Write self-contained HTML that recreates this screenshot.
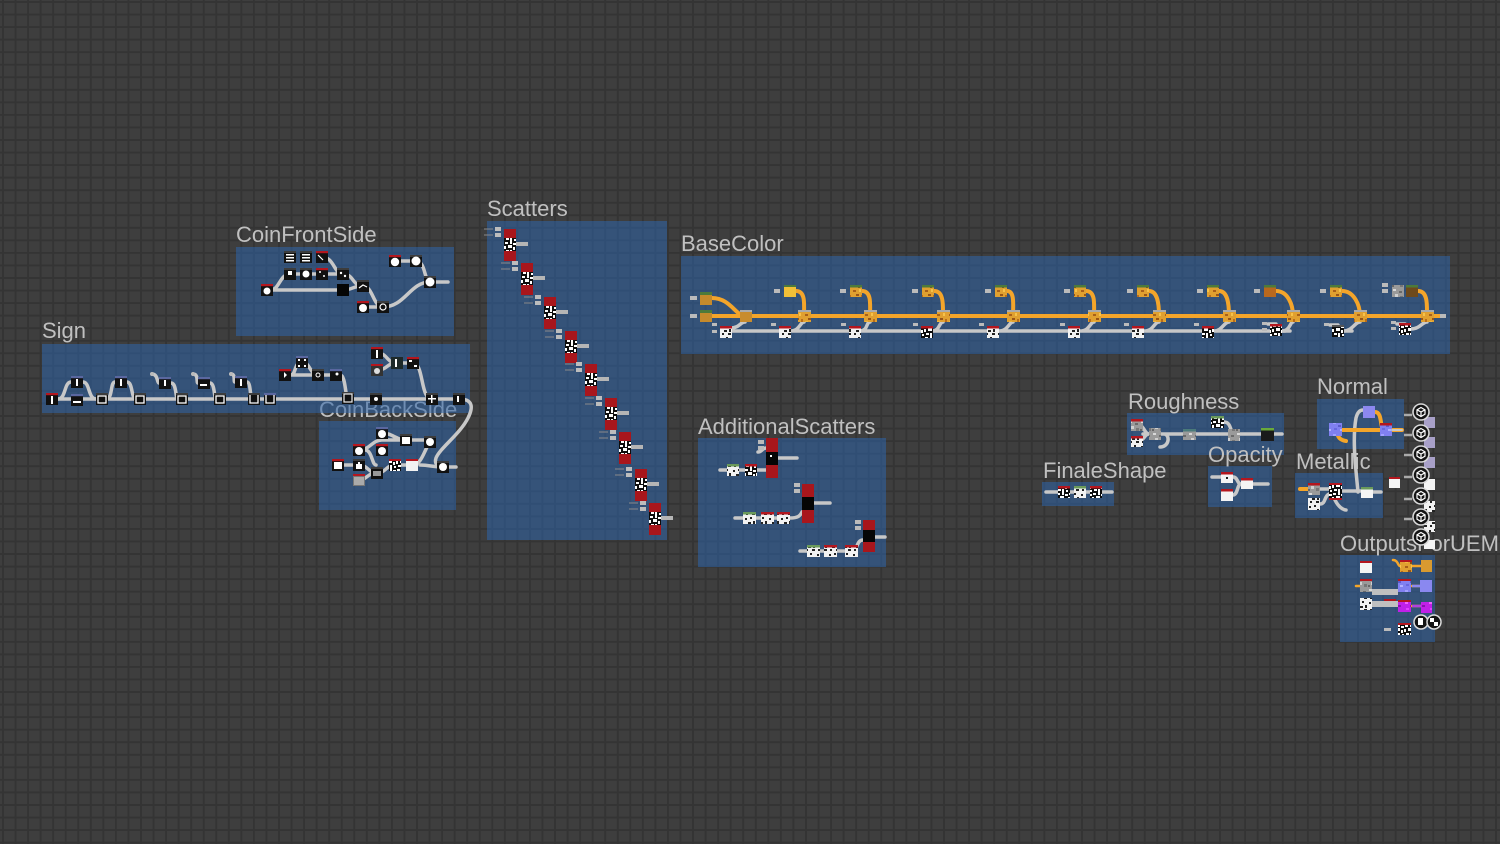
<!DOCTYPE html>
<html><head><meta charset="utf-8"><style>
html,body{margin:0;padding:0}
body{width:1500px;height:844px;overflow:hidden;background-color:#3e3e3e;
background-image:linear-gradient(to bottom,#343434 0,#343434 2px,transparent 2px),linear-gradient(to right,#343434 0,#343434 2px,transparent 2px);
background-size:12.55px 12.55px;background-position:2px 1px;}
svg{position:absolute;left:0;top:0}
.t{font-family:"Liberation Sans","DejaVu Sans",sans-serif;font-size:22px;fill:#c0c0c0}
.g{fill:none;stroke:#c8c8c8;stroke-width:3.5;stroke-linecap:round}
.o{fill:none;stroke:#f4a52a;stroke-width:4;stroke-linecap:round}
.fr{fill:rgba(45,100,170,0.55)}
</style></head><body>
<svg width="1500" height="844" viewBox="0 0 1500 844" xmlns="http://www.w3.org/2000/svg">
<defs>
<pattern id="nz" width="12" height="12" patternUnits="userSpaceOnUse">
<rect width="12" height="12" fill="#0c0c0c"/>
<rect x="1" y="1" width="3" height="2" fill="#fff"/><rect x="6" y="0" width="2" height="3" fill="#fff"/><rect x="9" y="2" width="3" height="2" fill="#fff"/><rect x="0" y="5" width="2" height="3" fill="#fff"/><rect x="4" y="4" width="4" height="3" fill="#fff"/><rect x="9" y="6" width="2" height="3" fill="#fff"/><rect x="2" y="9" width="3" height="2" fill="#fff"/><rect x="6" y="9" width="2" height="3" fill="#fff"/><rect x="10" y="10" width="2" height="2" fill="#fff"/>
</pattern>
<pattern id="nw" width="12" height="12" patternUnits="userSpaceOnUse">
<rect width="12" height="12" fill="#f2f2f2"/>
<rect x="1" y="2" width="2" height="2" fill="#222"/><rect x="6" y="1" width="2" height="2" fill="#222"/><rect x="4" y="6" width="3" height="2" fill="#222"/><rect x="9" y="5" width="2" height="3" fill="#222"/><rect x="2" y="9" width="2" height="2" fill="#222"/><rect x="8" y="9" width="3" height="2" fill="#222"/>
</pattern>
<pattern id="ng" width="12" height="12" patternUnits="userSpaceOnUse">
<rect width="12" height="12" fill="#9a9a9a"/>
<rect x="1" y="1" width="3" height="2" fill="#d8d8d8"/><rect x="7" y="3" width="3" height="2" fill="#6a6a6a"/><rect x="3" y="6" width="3" height="3" fill="#cfcfcf"/><rect x="8" y="8" width="3" height="3" fill="#777"/><rect x="0" y="9" width="2" height="2" fill="#666"/>
</pattern>
<pattern id="ru" width="12" height="12" patternUnits="userSpaceOnUse">
<rect width="12" height="12" fill="#e0a030"/>
<rect x="1" y="2" width="3" height="2" fill="#a8601a"/><rect x="7" y="1" width="2" height="3" fill="#f6c24a"/><rect x="4" y="6" width="3" height="2" fill="#9a5516"/><rect x="9" y="7" width="2" height="3" fill="#b86c1c"/><rect x="1" y="9" width="3" height="2" fill="#f0b840"/><rect x="6" y="10" width="2" height="2" fill="#8c4c14"/>
</pattern>
<pattern id="nm" width="12" height="12" patternUnits="userSpaceOnUse">
<rect width="12" height="12" fill="#8080f0"/>
<rect x="1" y="2" width="3" height="2" fill="#a0a0ff"/><rect x="6" y="5" width="3" height="2" fill="#5c5ccc"/><rect x="2" y="8" width="3" height="2" fill="#6868e0"/><rect x="8" y="9" width="3" height="2" fill="#b0b0ff"/>
</pattern>
<pattern id="mg" width="12" height="12" patternUnits="userSpaceOnUse">
<rect width="12" height="12" fill="#c020e8"/>
<rect x="1" y="2" width="3" height="2" fill="#f060ff"/><rect x="6" y="5" width="3" height="2" fill="#8a10b0"/><rect x="2" y="8" width="3" height="2" fill="#e040ff"/>
</pattern>
<g id="kR"><rect width="12" height="12" fill="#111"/><rect width="12" height="2.2" fill="#b4161e"/></g>
<g id="kB"><rect width="12" height="12" fill="#111"/><rect width="12" height="2.2" fill="#5a67a0"/></g>
<g id="kK"><rect width="12" height="12" fill="#111"/><rect width="12" height="2" fill="#3c3c3c"/></g>
<g id="oc"><circle cx="0" cy="0" r="8" fill="#141414" stroke="#d8d8d8" stroke-width="1.6"/><path d="M0,-4.5 L4,-2.2 L4,2.2 L0,4.5 L-4,2.2 L-4,-2.2 Z M-4,-2.2 L0,0 L4,-2.2 M0,0 L0,4.5" fill="none" stroke="#fff" stroke-width="1.2"/></g>
<g id="sc"><rect width="12" height="32" fill="#a8161c"/><rect y="9" width="12" height="13" fill="url(#nz)"/><rect x="-9" y="-2" width="6" height="4" fill="#bdbdbd"/><rect x="-9" y="4" width="6" height="4" fill="#bdbdbd"/><path d="M-20,0 h9 M-20,6 h9" stroke="#8a8a8a" stroke-width="1"/><rect x="12" y="13" width="12" height="4" fill="#b5b5b5"/></g>
</defs>

<text class="t" x="319" y="417">CoinBackSide</text>

<rect class="fr" x="236" y="247" width="218" height="89"/>
<rect class="fr" x="42" y="344" width="428" height="69"/>
<rect class="fr" x="319" y="421" width="137" height="89"/>
<rect class="fr" x="487" y="221" width="180" height="319"/>
<rect class="fr" x="681" y="256" width="769" height="98"/>
<rect class="fr" x="698" y="438" width="188" height="129"/>
<rect class="fr" x="1127" y="413" width="157" height="42"/>
<rect class="fr" x="1042" y="482" width="72" height="24"/>
<rect class="fr" x="1208" y="466" width="64" height="41"/>
<rect class="fr" x="1317" y="399" width="87" height="50"/>
<rect class="fr" x="1295" y="473" width="88" height="45"/>
<rect class="fr" x="1340" y="555" width="95" height="87"/>

<text class="t" x="42" y="338">Sign</text>
<text class="t" x="236" y="242">CoinFrontSide</text>
<text class="t" x="487" y="216">Scatters</text>
<text class="t" x="681" y="251">BaseColor</text>
<text class="t" x="698" y="434">AdditionalScatters</text>
<text class="t" x="1128" y="409">Roughness</text>
<text class="t" x="1208" y="462">Opacity</text>
<text class="t" x="1043" y="478">FinaleShape</text>
<text class="t" x="1317" y="394">Normal</text>
<text class="t" x="1296" y="469">Metallic</text>
<text class="t" x="1340" y="551">OutputsForUEM</text>

<path class="g" d="M52,399 H463"/>
<path class="g" d="M58,399 C66,399 64,382 71,382 M83,382 C90,382 88,399 96,399"/>
<path class="g" d="M106,399 C113,399 110,382 115,382 M127,382 C133,382 131,399 136,399"/>
<path class="g" d="M152,374 C158,374 157,383 159,383 M171,383 C177,383 175,399 178,399"/>
<path class="g" d="M193,374 C199,374 196,383 198,383 M210,383 C215,383 214,399 216,399"/>
<path class="g" d="M231,374 C236,374 233,382 235,382 M247,382 C251,382 250,399 252,399"/>
<path class="g" d="M285,375 H336 M291,375 C296,375 294,362 302,362 C310,362 310,375 318,375 M340,375 C346,375 345,398 348,398"/>
<path class="g" d="M377,353 C388,353 386,363 397,363 M377,370 C388,370 386,363 397,363 H413 C424,363 420,399 432,399"/>
<path class="g" d="M459,399 C472,399 474,406 468,418 C460,434 440,448 436,458 C434,464 438,467 443,467"/>
<use href="#kR" x="46" y="393"/><rect x="51" y="396" width="2" height="8" fill="#fff"/>
<use href="#kB" x="71" y="394"/><rect x="73" y="401" width="8" height="2" fill="#fff"/>
<use href="#kK" x="96" y="393"/><rect x="98" y="396" width="8" height="7" fill="none" stroke="#fff" stroke-width="1.3"/>
<use href="#kK" x="134" y="393"/><rect x="136" y="396" width="8" height="7" fill="none" stroke="#fff" stroke-width="1.3"/>
<use href="#kK" x="176" y="393"/><rect x="178" y="396" width="8" height="7" fill="none" stroke="#fff" stroke-width="1.3"/>
<use href="#kK" x="214" y="393"/><rect x="216" y="396" width="8" height="7" fill="none" stroke="#fff" stroke-width="1.3"/>
<use href="#kK" x="248" y="393"/><path d="M250,395 V403 H258 V395" fill="none" stroke="#fff" stroke-width="1.3"/>
<use href="#kB" x="264" y="393"/><path d="M266,395 V403 H274 V395" fill="none" stroke="#fff" stroke-width="1.3"/>
<use href="#kB" x="71" y="376"/><rect x="76" y="379" width="2" height="7" fill="#fff"/>
<use href="#kB" x="115" y="376"/><rect x="120" y="379" width="2" height="7" fill="#fff"/>
<use href="#kB" x="159" y="377"/><rect x="164" y="380" width="2" height="6" fill="#fff"/>
<use href="#kB" x="198" y="377"/><rect x="200" y="384" width="7" height="2" fill="#fff"/>
<use href="#kB" x="235" y="376"/><rect x="240" y="379" width="2" height="7" fill="#fff"/>
<circle cx="152" cy="374" r="2" fill="#bbb"/><circle cx="193" cy="374" r="2" fill="#bbb"/><circle cx="231" cy="374" r="2" fill="#bbb"/>
<use href="#kR" x="279" y="369"/><path d="M284,372 l3,3 l-3,3z" fill="#fff"/>
<use href="#kB" x="296" y="356"/><rect x="298" y="359" width="2" height="2" fill="#fff"/><rect x="304" y="359" width="2" height="2" fill="#fff"/><rect x="298" y="365" width="2" height="2" fill="#fff"/><rect x="304" y="365" width="2" height="2" fill="#fff"/>
<use href="#kK" x="312" y="369"/><circle cx="318" cy="375" r="2" fill="none" stroke="#fff"/>
<use href="#kB" x="330" y="369"/><circle cx="337" cy="374" r="1.5" fill="#fff"/>
<use href="#kK" x="342" y="392"/><rect x="344" y="394" width="8" height="8" fill="none" stroke="#eee" stroke-width="1.2"/>
<use href="#kK" x="370" y="393"/><circle cx="376" cy="399" r="2" fill="#fff"/>
<use href="#kR" x="371" y="347"/><rect x="376" y="350" width="2" height="8" fill="#fff"/>
<rect x="371" y="364" width="12" height="12" fill="#333"/><rect x="371" y="364" width="12" height="2" fill="#b4161e"/><circle cx="377" cy="371" r="3" fill="#ddd"/>
<rect x="391" y="357" width="12" height="12" fill="#1e2a2a"/><rect x="395" y="359" width="2" height="8" fill="#fff"/>
<use href="#kR" x="407" y="357"/><rect x="409" y="360" width="3" height="2" fill="#fff"/><rect x="414" y="365" width="3" height="2" fill="#fff"/>
<use href="#kK" x="426" y="393"/><rect x="431" y="395" width="1.5" height="8" fill="#fff"/><rect x="428" y="398" width="8" height="1.5" fill="#fff"/>
<use href="#kK" x="453" y="393"/><rect x="457" y="396" width="2" height="6" fill="#fff"/>

<path class="g" d="M267,290 H343 M271,290 C279,290 280,274 290,274 H343 M322,257 C334,257 334,274 343,274 C354,274 352,286 363,286 M343,290 C353,290 352,286 363,286 C373,286 373,307 383,307 M363,307 H383 C405,307 410,282 430,282 M395,261 H416 C426,261 424,282 430,282 M436,282 H448"/>
<use href="#kK" x="284" y="251"/><rect x="286" y="254" width="8" height="1.5" fill="#fff"/><rect x="286" y="257" width="8" height="1.5" fill="#fff"/><rect x="286" y="260" width="8" height="1.5" fill="#fff"/>
<use href="#kK" x="300" y="251"/><rect x="302" y="254" width="8" height="1.5" fill="#fff"/><rect x="302" y="257" width="8" height="1.5" fill="#fff"/><rect x="302" y="260" width="8" height="1.5" fill="#fff"/>
<use href="#kR" x="316" y="251"/><path d="M318,255 l5,5" stroke="#fff" stroke-width="1.2"/>
<use href="#kK" x="284" y="268"/><rect x="288" y="271" width="4" height="4" fill="#fff"/>
<use href="#kK" x="300" y="268"/><circle cx="306" cy="274" r="3.5" fill="#fff"/>
<use href="#kR" x="316" y="268"/><circle cx="320" cy="272" r="1" fill="#fff"/><circle cx="324" cy="276" r="1" fill="#fff"/>
<use href="#kK" x="337" y="268"/><circle cx="341" cy="273" r="1.2" fill="#fff"/><circle cx="345" cy="276" r="1.2" fill="#fff"/>
<use href="#kR" x="261" y="284"/><circle cx="267" cy="291" r="3.5" fill="#fff"/>
<rect x="337" y="284" width="12" height="12" fill="#050505"/>
<use href="#kK" x="357" y="280"/><path d="M359,288 l4,-3 l4,2" stroke="#fff" fill="none" stroke-width="1.2"/>
<use href="#kR" x="357" y="301"/><circle cx="363" cy="308" r="4" fill="#fff"/>
<use href="#kK" x="377" y="301"/><circle cx="383" cy="307" r="3" fill="none" stroke="#fff" stroke-width="1.2"/>
<use href="#kR" x="389" y="255"/><circle cx="395" cy="262" r="4.2" fill="#fff"/>
<use href="#kK" x="410" y="255"/><circle cx="416" cy="261" r="4.5" fill="#fff"/>
<use href="#kK" x="424" y="276"/><circle cx="430" cy="282" r="4.5" fill="#fff"/>

<path class="g" d="M344,465 H359 C368,465 368,473 377,473 C386,473 386,465 395,465 H412 C422,465 424,450 430,442 M359,450 C370,450 372,440 382,440 H406 M382,433 C392,433 396,440 406,440 H430 M359,480 C367,480 367,473 377,473 M365,450 C372,450 372,465 376,465 M420,465 C430,465 432,467 443,467 M449,467 H456"/>
<use href="#kB" x="376" y="427"/><circle cx="382" cy="434" r="4" fill="#fff"/>
<use href="#kR" x="353" y="444"/><circle cx="359" cy="451" r="4" fill="#fff"/>
<use href="#kR" x="376" y="444"/><circle cx="382" cy="451" r="4" fill="#fff"/>
<use href="#kK" x="400" y="434"/><rect x="402" y="437" width="8" height="7" fill="#fff"/>
<use href="#kK" x="424" y="436"/><circle cx="430" cy="442" r="4" fill="#fff"/>
<use href="#kR" x="332" y="459"/><rect x="334" y="462" width="8" height="7" fill="#fff"/>
<use href="#kK" x="353" y="459"/><path d="M356,469 V464 h2 v-2 h2 v2 h2 v5z" fill="#fff"/>
<rect x="353" y="474" width="12" height="12" fill="#777"/><rect x="353" y="474" width="12" height="2" fill="#b4161e"/><rect x="354" y="477" width="10" height="8" fill="#aaa"/>
<use href="#kK" x="371" y="467"/><rect x="373" y="471" width="8" height="5" fill="#999"/>
<rect x="389" y="459" width="12" height="12" fill="url(#nz)"/><rect x="389" y="459" width="12" height="2" fill="#b4161e"/>
<rect x="406" y="459" width="12" height="12" fill="#f2f2f2"/><rect x="406" y="459" width="12" height="2" fill="#b4161e"/>
<use href="#kK" x="437" y="461"/><circle cx="443" cy="467" r="4" fill="#fff"/>

<use href="#sc" x="504" y="229"/>
<use href="#sc" x="521" y="263"/>
<use href="#sc" x="544" y="297"/>
<use href="#sc" x="565" y="331"/>
<use href="#sc" x="585" y="364"/>
<use href="#sc" x="605" y="398"/>
<use href="#sc" x="619" y="432"/>
<use href="#sc" x="635" y="469"/>
<use href="#sc" x="649" y="503"/>

<path class="g" d="M732,331 H1285 M730,328 C740,328 740,322 745,322 M790,331 C800,331 800,322 804,322 M860,331 C868,331 866,322 870,322 M932,331 C940,331 939,322 943,322 M999,331 C1008,331 1009,322 1013,322 M1080,331 C1090,331 1090,322 1094,322 M1144,331 C1154,331 1154,322 1159,322 M1214,331 C1222,331 1224,322 1229,322 M1282,331 C1290,331 1290,322 1293,322 M1344,331 C1352,331 1355,322 1360,322 M1411,329 C1420,329 1422,322 1427,322"/>
<path class="g" d="M1268,324 H1276 M1330,325 H1338 M1397,324 H1405 M1344,331 H1352 M1282,331 H1290"/>
<path class="o" d="M712,316 H1440 M712,298 C730,298 736,316 745,316 M796,291 C806,291 804,305 804,316 M862,291 C872,291 870,305 870,316 M934,291 C944,291 943,305 943,316 M1007,291 C1015,291 1013,305 1013,316 M1086,291 C1096,291 1094,305 1094,316 M1149,291 C1158,291 1159,305 1159,316 M1219,291 C1228,291 1229,305 1229,316 M1276,291 C1288,291 1293,305 1293,316 M1342,291 C1354,291 1360,305 1360,316 M1418,291 C1428,291 1427,305 1427,316"/>
<rect x="690" y="296" width="7" height="4" fill="#bbb"/><rect x="690" y="314" width="7" height="4" fill="#bbb"/>
<rect x="700" y="292" width="12" height="13" fill="#c58a2c"/><rect x="700" y="292" width="12" height="3" fill="#4d7a3a"/>
<rect x="700" y="310" width="12" height="12" fill="#c58a2c"/><rect x="700" y="310" width="12" height="3" fill="#4d7a3a"/>
<rect x="740" y="310" width="12" height="12" fill="#c88c2e"/><rect x="740" y="310" width="12" height="2" fill="#aaa"/>
<rect x="784" y="285" width="12" height="12" fill="#f2c038"/><rect x="784" y="285" width="12" height="2" fill="#4d7a3a"/>
<rect x="774" y="289" width="6" height="4" fill="#bbb"/>
<rect x="850" y="285" width="12" height="12" fill="url(#ru)"/><rect x="850" y="285" width="12" height="2.5" fill="#4d7a3a"/><rect x="840" y="289" width="6" height="4" fill="#bbb"/>
<rect x="922" y="285" width="12" height="12" fill="url(#ru)"/><rect x="922" y="285" width="12" height="2.5" fill="#4d7a3a"/><rect x="912" y="289" width="6" height="4" fill="#bbb"/>
<rect x="995" y="285" width="12" height="12" fill="url(#ru)"/><rect x="995" y="285" width="12" height="2.5" fill="#4d7a3a"/><rect x="985" y="289" width="6" height="4" fill="#bbb"/>
<rect x="1074" y="285" width="12" height="12" fill="url(#ru)"/><rect x="1074" y="285" width="12" height="2.5" fill="#4d7a3a"/><rect x="1064" y="289" width="6" height="4" fill="#bbb"/>
<rect x="1137" y="285" width="12" height="12" fill="url(#ru)"/><rect x="1137" y="285" width="12" height="2.5" fill="#4d7a3a"/><rect x="1127" y="289" width="6" height="4" fill="#bbb"/>
<rect x="1207" y="285" width="12" height="12" fill="url(#ru)"/><rect x="1207" y="285" width="12" height="2.5" fill="#4d7a3a"/><rect x="1197" y="289" width="6" height="4" fill="#bbb"/>
<rect x="1264" y="285" width="12" height="12" fill="#b8681e"/><rect x="1264" y="285" width="12" height="2.5" fill="#4d7a3a"/><rect x="1254" y="289" width="6" height="4" fill="#bbb"/>
<rect x="1330" y="285" width="12" height="12" fill="url(#ru)"/><rect x="1330" y="285" width="12" height="2.5" fill="#4d7a3a"/><rect x="1320" y="289" width="6" height="4" fill="#bbb"/>
<rect x="1392" y="285" width="12" height="12" fill="url(#ng)"/><rect x="1406" y="285" width="12" height="12" fill="#6e4a1c"/><rect x="1406" y="285" width="12" height="2.5" fill="#4d7a3a"/><rect x="1382" y="283" width="6" height="4" fill="#bbb"/><rect x="1382" y="289" width="6" height="4" fill="#bbb"/>
<rect x="798" y="310" width="13" height="12" fill="url(#ru)"/><rect x="798" y="310" width="13" height="2" fill="#aaa"/>
<rect x="864" y="310" width="13" height="12" fill="url(#ru)"/><rect x="864" y="310" width="13" height="2" fill="#aaa"/>
<rect x="937" y="310" width="13" height="12" fill="url(#ru)"/><rect x="937" y="310" width="13" height="2" fill="#aaa"/>
<rect x="1007" y="310" width="13" height="12" fill="url(#ru)"/><rect x="1007" y="310" width="13" height="2" fill="#aaa"/>
<rect x="1088" y="310" width="13" height="12" fill="url(#ru)"/><rect x="1088" y="310" width="13" height="2" fill="#aaa"/>
<rect x="1153" y="310" width="13" height="12" fill="url(#ru)"/><rect x="1153" y="310" width="13" height="2" fill="#aaa"/>
<rect x="1223" y="310" width="13" height="12" fill="url(#ru)"/><rect x="1223" y="310" width="13" height="2" fill="#aaa"/>
<rect x="1287" y="310" width="13" height="12" fill="url(#ru)"/><rect x="1287" y="310" width="13" height="2" fill="#aaa"/>
<rect x="1354" y="310" width="13" height="12" fill="url(#ru)"/><rect x="1354" y="310" width="13" height="2" fill="#aaa"/>
<rect x="1421" y="310" width="13" height="12" fill="url(#ru)"/><rect x="1421" y="310" width="13" height="2" fill="#aaa"/>
<rect x="1440" y="314" width="6" height="4" fill="#bbb"/>
<rect x="720" y="326" width="12" height="12" fill="url(#nw)"/><rect x="720" y="326" width="12" height="2.5" fill="#b4161e"/>
<rect x="779" y="326" width="12" height="12" fill="url(#nw)"/><rect x="779" y="326" width="12" height="2.5" fill="#b4161e"/>
<rect x="849" y="326" width="12" height="12" fill="url(#nw)"/><rect x="849" y="326" width="12" height="2.5" fill="#b4161e"/>
<rect x="921" y="326" width="12" height="12" fill="url(#nz)"/><rect x="921" y="326" width="12" height="2.5" fill="#b4161e"/>
<rect x="987" y="326" width="12" height="12" fill="url(#nw)"/><rect x="987" y="326" width="12" height="2.5" fill="#b4161e"/>
<rect x="1068" y="326" width="12" height="12" fill="url(#nw)"/><rect x="1068" y="326" width="12" height="2.5" fill="#b4161e"/>
<rect x="1132" y="326" width="12" height="12" fill="url(#nw)"/><rect x="1132" y="326" width="12" height="2.5" fill="#b4161e"/>
<rect x="1202" y="326" width="12" height="12" fill="url(#nz)"/><rect x="1202" y="326" width="12" height="2.5" fill="#b4161e"/>
<rect x="1270" y="324" width="12" height="12" fill="url(#nz)"/><rect x="1270" y="324" width="12" height="2.5" fill="#b4161e"/>
<rect x="1332" y="325" width="12" height="12" fill="url(#nz)"/><rect x="1332" y="325" width="12" height="2" fill="#555"/>
<rect x="1399" y="323" width="12" height="12" fill="url(#nz)"/><rect x="1399" y="323" width="12" height="2.5" fill="#b4161e"/>
<rect x="712" y="323" width="5" height="3" fill="#bbb"/><rect x="712" y="330" width="5" height="3" fill="#bbb"/>
<rect x="771" y="323" width="5" height="3" fill="#bbb"/><rect x="841" y="323" width="5" height="3" fill="#bbb"/><rect x="913" y="323" width="5" height="3" fill="#bbb"/><rect x="979" y="323" width="5" height="3" fill="#bbb"/><rect x="1060" y="323" width="5" height="3" fill="#bbb"/><rect x="1124" y="323" width="5" height="3" fill="#bbb"/><rect x="1194" y="323" width="5" height="3" fill="#bbb"/><rect x="1262" y="322" width="5" height="3" fill="#bbb"/><rect x="1262" y="328" width="5" height="3" fill="#bbb"/><rect x="1324" y="323" width="5" height="3" fill="#bbb"/><rect x="1391" y="321" width="5" height="3" fill="#bbb"/><rect x="1391" y="327" width="5" height="3" fill="#bbb"/>

<path class="g" d="M778,458 H797 M814,503 H830 M875,537 H885 M720,470 H766 M735,518 H790 C798,518 800,516 802,512 M800,551 H852 C858,551 856,540 863,540 M758,452 C762,452 762,448 766,448"/>
<rect x="766" y="438" width="12" height="40" fill="#a8161c"/><rect x="766" y="452" width="12" height="13" fill="#050505"/><rect x="770" y="455" width="2" height="2" fill="#fff"/>
<rect x="802" y="484" width="12" height="39" fill="#a8161c"/><rect x="802" y="497" width="12" height="13" fill="#050505"/>
<rect x="863" y="520" width="12" height="32" fill="#a8161c"/><rect x="863" y="530" width="12" height="12" fill="#050505"/>
<rect x="758" y="440" width="6" height="4" fill="#bbb"/><rect x="758" y="446" width="6" height="4" fill="#bbb"/>
<rect x="794" y="483" width="6" height="4" fill="#bbb"/><rect x="794" y="489" width="6" height="4" fill="#bbb"/>
<rect x="855" y="520" width="6" height="4" fill="#bbb"/><rect x="855" y="526" width="6" height="4" fill="#bbb"/>
<rect x="727" y="464" width="12" height="12" fill="url(#nw)"/><rect x="727" y="464" width="12" height="2.5" fill="#6a9a5a"/>
<rect x="745" y="464" width="12" height="12" fill="url(#nz)"/><rect x="745" y="464" width="12" height="2.5" fill="#b4161e"/>
<rect x="743" y="512" width="13" height="12" fill="url(#nw)"/><rect x="743" y="512" width="13" height="2.5" fill="#6a9a5a"/>
<rect x="761" y="512" width="13" height="12" fill="url(#nw)"/><rect x="761" y="512" width="13" height="2.5" fill="#b4161e"/>
<rect x="777" y="512" width="13" height="12" fill="url(#nw)"/><rect x="777" y="512" width="13" height="2.5" fill="#b4161e"/>
<rect x="807" y="545" width="13" height="12" fill="url(#nw)"/><rect x="807" y="545" width="13" height="2.5" fill="#6a9a5a"/>
<rect x="824" y="545" width="13" height="12" fill="url(#nw)"/><rect x="824" y="545" width="13" height="2.5" fill="#b4161e"/>
<rect x="845" y="545" width="13" height="12" fill="url(#nw)"/><rect x="845" y="545" width="13" height="2.5" fill="#b4161e"/>

<path class="g" d="M1143,434 H1282 M1137,425 C1145,425 1144,434 1149,434 M1137,441 C1145,441 1144,434 1149,434 M1164,434 C1170,434 1170,447 1160,447 M1224,422 C1232,422 1230,434 1234,434"/>
<rect x="1131" y="419" width="12" height="12" fill="url(#ng)"/><rect x="1131" y="419" width="12" height="2.5" fill="#b4161e"/>
<rect x="1131" y="436" width="12" height="11" fill="url(#nw)"/><rect x="1131" y="436" width="12" height="2.5" fill="#b4161e"/>
<rect x="1149" y="428" width="12" height="12" fill="url(#ng)"/>
<rect x="1183" y="429" width="13" height="11" fill="url(#ng)"/><rect x="1183" y="429" width="13" height="2.5" fill="#4a7a7a"/>
<rect x="1211" y="416" width="13" height="12" fill="url(#nz)"/><rect x="1211" y="416" width="13" height="2.5" fill="#6a9a5a"/>
<rect x="1228" y="429" width="12" height="12" fill="url(#ng)"/>
<rect x="1261" y="428" width="13" height="13" fill="#1a1a1a"/><rect x="1261" y="428" width="13" height="2.5" fill="#6aaa3a"/>

<path class="g" d="M1046,492 H1112"/>
<rect x="1058" y="486" width="12" height="12" fill="url(#nz)"/><rect x="1058" y="486" width="12" height="2.5" fill="#b4161e"/>
<rect x="1074" y="486" width="12" height="12" fill="url(#nw)"/><rect x="1074" y="486" width="12" height="2.5" fill="#6a9a5a"/>
<rect x="1090" y="486" width="12" height="12" fill="url(#nz)"/><rect x="1090" y="486" width="12" height="2.5" fill="#b4161e"/>

<path class="g" d="M1212,477 H1221 M1233,477 C1238,477 1237,484 1241,484 M1233,495 C1238,495 1237,484 1241,484 M1253,484 H1268"/>
<rect x="1221" y="472" width="12" height="11" fill="#f4f4f4"/><rect x="1221" y="472" width="12" height="2.5" fill="#b4161e"/><rect x="1226" y="477" width="2" height="2" fill="#222"/>
<rect x="1241" y="478" width="12" height="11" fill="#f4f4f4"/><rect x="1241" y="478" width="12" height="2.5" fill="#b4161e"/>
<rect x="1221" y="489" width="12" height="12" fill="#f4f4f4"/><rect x="1221" y="489" width="12" height="2.5" fill="#b4161e"/>

<path class="g" d="M1320,489 H1329 M1342,491 H1361 M1372,492 H1381 M1320,504 C1326,504 1324,496 1329,494 M1335,500 C1340,510 1346,510 1346,510 M1358,492 C1356,470 1352,440 1356,418 C1358,410 1362,410 1363,410"/>
<path class="o" d="M1300,489 H1308"/>
<rect x="1308" y="483" width="12" height="12" fill="url(#ng)"/><rect x="1308" y="483" width="12" height="2.5" fill="#b4161e"/>
<rect x="1308" y="498" width="12" height="12" fill="url(#nw)"/>
<rect x="1329" y="483" width="13" height="17" fill="url(#nz)"/><rect x="1329" y="483" width="13" height="2" fill="#b4161e"/><rect x="1329" y="498" width="13" height="2" fill="#b4161e"/>
<rect x="1361" y="487" width="12" height="11" fill="#f4f4f4"/><rect x="1361" y="487" width="12" height="2.5" fill="#6a9a5a"/>
<rect x="1389" y="477" width="11" height="11" fill="#f4f4f4"/><rect x="1389" y="477" width="11" height="2" fill="#b4161e"/>

<path class="o" d="M1336,430 H1402 M1375,412 C1382,412 1380,425 1383,430 M1336,430 C1338,438 1340,440 1346,441"/>
<rect x="1329" y="423" width="13" height="13" fill="url(#nm)"/>
<rect x="1363" y="406" width="12" height="12" fill="#8c88f0"/>
<rect x="1380" y="423" width="12" height="13" fill="url(#nm)"/><rect x="1380" y="423" width="12" height="2.5" fill="#b4161e"/>
<path class="g" d="M1392,430 H1402" style="stroke-width:2"/>

<path class="g" d="M1372,592 H1398 M1372,604 H1398" style="stroke-width:6;stroke:#c0c0c0;stroke-linecap:butt"/>
<path class="o" d="M1412,566 H1421 M1393,560 C1398,560 1398,566 1400,566 M1412,586 H1421 M1412,606 H1421 M1356,586 H1360" style="stroke-width:2.5"/>
<path d="M1412,606 H1421" stroke="#b040e0" stroke-width="2.5"/>
<path d="M1412,586 H1421" stroke="#8a88f0" stroke-width="2.5"/>
<rect x="1384" y="599" width="12" height="2" fill="#b4161e"/>
<rect x="1360" y="561" width="12" height="12" fill="#f4f4f4"/><rect x="1360" y="561" width="12" height="2" fill="#b4161e"/>
<rect x="1400" y="560" width="12" height="12" fill="url(#ru)"/><rect x="1400" y="560" width="12" height="2" fill="#b4161e"/>
<rect x="1421" y="560" width="11" height="12" fill="#d89a30"/>
<rect x="1360" y="579" width="12" height="13" fill="url(#ng)"/><rect x="1360" y="579" width="12" height="2" fill="#b4161e"/>
<rect x="1398" y="579" width="13" height="13" fill="url(#nm)"/><rect x="1398" y="579" width="13" height="2" fill="#b4161e"/>
<rect x="1420" y="580" width="12" height="12" fill="#8a88f0"/>
<rect x="1360" y="598" width="12" height="12" fill="url(#nw)"/>
<rect x="1398" y="600" width="13" height="12" fill="url(#mg)"/><rect x="1398" y="600" width="13" height="2" fill="#b4161e"/>
<rect x="1421" y="602" width="11" height="11" fill="url(#mg)"/>
<rect x="1398" y="623" width="13" height="12" fill="url(#nz)"/><rect x="1398" y="623" width="13" height="2" fill="#b4161e"/>
<rect x="1384" y="628" width="7" height="3" fill="#bbb"/>
<circle cx="1421" cy="622" r="7" fill="#141414" stroke="#ddd" stroke-width="1.5"/><rect x="1418" y="618" width="5" height="7" fill="#fff"/>
<circle cx="1434" cy="622" r="7" fill="#141414" stroke="#ddd" stroke-width="1.5"/><rect x="1430" y="618" width="4" height="4" fill="#fff"/><rect x="1434" y="622" width="4" height="4" fill="#fff"/>

<rect x="1424" y="417" width="11" height="11" fill="#a8a0c8"/>
<rect x="1424" y="437" width="11" height="11" fill="#a8a0c8"/>
<rect x="1424" y="457" width="11" height="11" fill="#a8a0c8"/>
<rect x="1424" y="479" width="11" height="11" fill="#f4f4f4"/>
<rect x="1424" y="501" width="11" height="11" fill="url(#nw)"/>
<rect x="1424" y="521" width="11" height="11" fill="url(#nw)"/>
<rect x="1424" y="540" width="11" height="9" fill="#f4f4f4"/>
<path d="M1404,415 H1412 M1404,435 H1412 M1404,455 H1412 M1404,477 H1412 M1404,499 H1412 M1404,519 H1412" stroke="#aaa" stroke-width="2.5"/>
<use href="#oc" x="1421" y="412"/>
<use href="#oc" x="1421" y="433"/>
<use href="#oc" x="1421" y="454"/>
<use href="#oc" x="1421" y="475"/>
<use href="#oc" x="1421" y="496"/>
<use href="#oc" x="1421" y="517"/>
<use href="#oc" x="1421" y="537"/>
</svg>
</body></html>
